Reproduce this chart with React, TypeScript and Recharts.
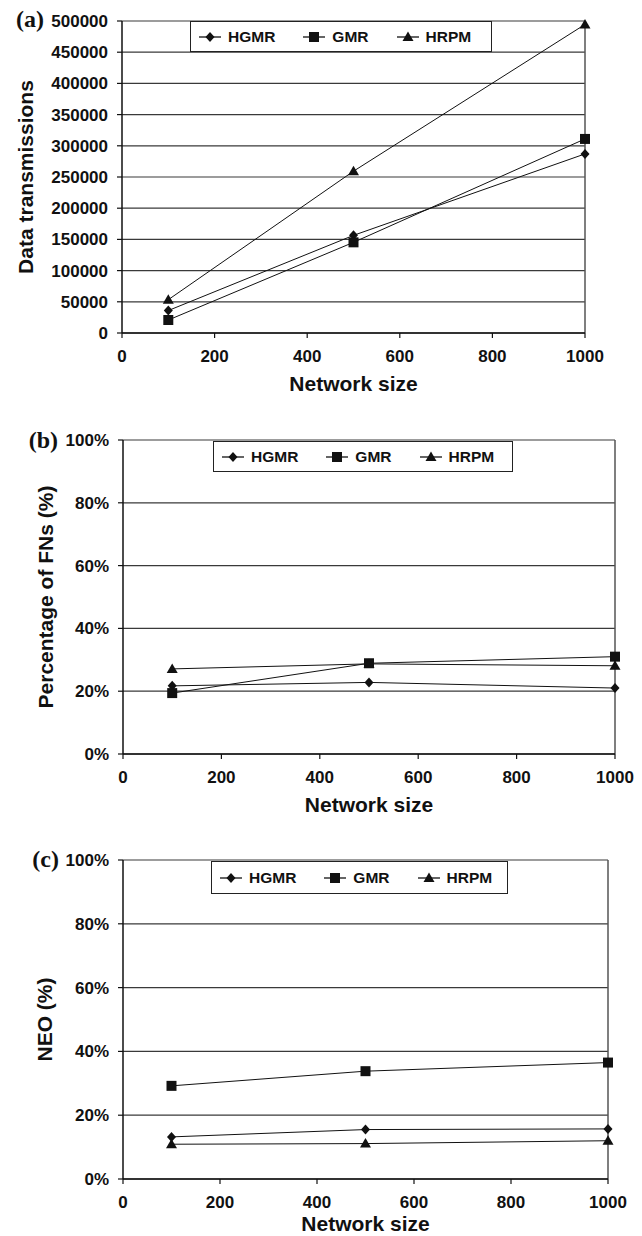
import React from 'react';
import { LineChart, Line, XAxis, YAxis, CartesianGrid, Legend, ReferenceLine } from 'recharts';

const networkSizes = [100, 500, 1000];
const seriesNames = ['HGMR', 'GMR', 'HRPM'];
const markerShapes = ['diamond', 'square', 'triangle'];

const hgmrTransmissions = [36000, 156500, 287000];
const gmrTransmissions = [20800, 145300, 311000];
const hrpmTransmissions = [53400, 259300, 494500];

const hgmrFNs = [21.7, 22.8, 21.0];
const gmrFNs = [19.4, 28.9, 31.0];
const hrpmFNs = [27.1, 28.7, 28.1];

const hgmrNEO = [13.2, 15.5, 15.7];
const gmrNEO = [29.2, 33.8, 36.5];
const hrpmNEO = [10.9, 11.1, 12.0];

const xTicks = [0, 200, 400, 600, 800, 1000];
const transmissionTicks = [0, 50000, 100000, 150000, 200000, 250000, 300000, 350000, 400000, 450000, 500000];
const percentTicks = [0, 20, 40, 60, 80, 100];

const SANS = '"Liberation Sans", Arial, Helvetica, sans-serif';
const SERIF = '"Liberation Serif", "Times New Roman", serif';
const INK = '#111';

function buildRows(a: number[], b: number[], c: number[]) {
  return networkSizes.map((n, i) => ({ size: n, HGMR: a[i], GMR: b[i], HRPM: c[i] }));
}

function markerPath(shape: string, cx: number, cy: number) {
  if (shape === 'diamond') return `M${cx},${cy - 5}L${cx + 4.5},${cy}L${cx},${cy + 5}L${cx - 4.5},${cy}Z`;
  if (shape === 'square') return `M${cx - 5},${cy - 5}h10v10h-10Z`;
  return `M${cx},${cy - 5.5}L${cx + 5.5},${cy + 4}L${cx - 5.5},${cy + 4}Z`;
}

function LegendBox({ width, height }: { width: number; height: number }) {
  return (
    <div
      style={{
        width,
        height,
        boxSizing: 'border-box',
        border: '1.5px solid #222',
        background: '#fff',
        display: 'flex',
        alignItems: 'center',
        paddingLeft: 8,
        gap: 28,
        fontFamily: SANS,
        fontWeight: 'bold',
        fontSize: 15.5,
        color: INK,
      }}
    >
      {seriesNames.map((name, i) => (
        <div key={name} style={{ display: 'flex', alignItems: 'center' }}>
          <svg width={22} height={12} style={{ display: 'block' }}>
            <line x1={0} y1={6} x2={22} y2={6} stroke={INK} strokeWidth={1.3} />
            <path d={markerPath(markerShapes[i], 11, 6)} fill={INK} />
          </svg>
          <span style={{ marginLeft: 7 }}>{name}</span>
        </div>
      ))}
    </div>
  );
}

type PanelProps = {
  top: number;
  height: number;
  margin: { top: number; right: number; left: number; bottom: number };
  xAxisHeight: number;
  xLabelOffset: number;
  rows: any[];
  yDomain: [number, number];
  yTicks: number[];
  yFormat: (v: number) => string;
  yTitle: string;
  yTitleOffset: number;
  legend: { left: number; top: number; width: number; height: number };
  panelLabel: string;
  panelLabelRight: number;
  panelLabelCenter: number;
};

function Panel(p: PanelProps) {
  return (
    <div style={{ position: 'absolute', left: 0, top: p.top, width: 642, height: p.height }}>
      <LineChart width={642} height={p.height} data={p.rows} margin={p.margin}>
        <CartesianGrid vertical={false} stroke="#3a3a3a" strokeWidth={1.2} />
        <XAxis
          dataKey="size"
          type="number"
          domain={[0, 1000]}
          ticks={xTicks}
          interval={0}
          height={p.xAxisHeight}
          tickSize={5}
          tickMargin={12}
          axisLine={{ stroke: INK, strokeWidth: 1.5 }}
          tickLine={{ stroke: INK, strokeWidth: 1.2 }}
          tick={{ fill: INK, fontSize: 17, fontWeight: 'bold', fontFamily: SANS }}
          label={{
            value: 'Network size',
            position: 'insideBottom',
            offset: p.xLabelOffset,
            fill: INK,
            fontSize: 21,
            fontWeight: 'bold',
            fontFamily: SANS,
          }}
        />
        <YAxis
          type="number"
          domain={p.yDomain}
          ticks={p.yTicks}
          interval={0}
          width={122}
          tickSize={5}
          tickMargin={9}
          tickFormatter={p.yFormat}
          axisLine={{ stroke: INK, strokeWidth: 1.5 }}
          tickLine={{ stroke: INK, strokeWidth: 1.2 }}
          tick={{ fill: INK, fontSize: 17, fontWeight: 'bold', fontFamily: SANS }}
          label={{
            value: p.yTitle,
            angle: -90,
            position: 'insideLeft',
            offset: p.yTitleOffset,
            fill: INK,
            fontSize: 21,
            fontWeight: 'bold',
            fontFamily: SANS,
            style: { textAnchor: 'middle' },
          }}
        />
        <ReferenceLine x={1000} stroke="#555" strokeWidth={1.5} />
        {seriesNames.map((name, i) => (
          <Line
            key={name}
            dataKey={name}
            stroke={INK}
            strokeWidth={1}
            isAnimationActive={false}
            dot={(d: any) => (
              <path key={`${name}-${d.index}`} d={markerPath(markerShapes[i], d.cx, d.cy)} fill={INK} stroke="none" />
            )}
            activeDot={false}
          />
        ))}
        <Legend
          layout="horizontal"
          verticalAlign="middle"
          align="center"
          wrapperStyle={{ left: p.legend.left, top: p.legend.top, width: p.legend.width, height: p.legend.height }}
          content={() => <LegendBox width={p.legend.width} height={p.legend.height} />}
        />
      </LineChart>
      <div
        style={{
          position: 'absolute',
          left: 0,
          width: p.panelLabelRight,
          top: p.panelLabelCenter - 14,
          textAlign: 'right',
          fontFamily: SERIF,
          fontWeight: 'bold',
          fontSize: 24,
          lineHeight: '24px',
          color: INK,
        }}
      >
        {p.panelLabel}
      </div>
    </div>
  );
}

const pct = (v: number) => `${v}%`;
const plain = (v: number) => `${v}`;

export default function App() {
  return (
    <div style={{ position: 'absolute', left: 0, top: 0, width: 642, height: 1236, overflow: 'hidden', background: '#fff' }}>
      <Panel
        top={0}
        height={403}
        margin={{ top: 21, right: 57, left: 0, bottom: 0 }}
        xAxisHeight={70}
        xLabelOffset={12}
        rows={buildRows(hgmrTransmissions, gmrTransmissions, hrpmTransmissions)}
        yDomain={[0, 500000]}
        yTicks={transmissionTicks}
        yFormat={plain}
        yTitle="Data transmissions"
        yTitleOffset={26}
        legend={{ left: 190, top: 21, width: 302, height: 31 }}
        panelLabel="(a)"
        panelLabelRight={44}
        panelLabelCenter={21}
      />
      <Panel
        top={400}
        height={424}
        margin={{ top: 40, right: 27, left: 1, bottom: 0 }}
        xAxisHeight={70}
        xLabelOffset={12}
        rows={buildRows(hgmrFNs, gmrFNs, hrpmFNs)}
        yDomain={[0, 100]}
        yTicks={percentTicks}
        yFormat={pct}
        yTitle="Percentage of FNs (%)"
        yTitleOffset={45}
        legend={{ left: 213, top: 41, width: 300, height: 31 }}
        panelLabel="(b)"
        panelLabelRight={58}
        panelLabelCenter={42}
      />
      <Panel
        top={800}
        height={436}
        margin={{ top: 60, right: 34, left: 1, bottom: 0 }}
        xAxisHeight={57}
        xLabelOffset={5}
        rows={buildRows(hgmrNEO, gmrNEO, hrpmNEO)}
        yDomain={[0, 100]}
        yTicks={percentTicks}
        yFormat={pct}
        yTitle="NEO (%)"
        yTitleOffset={44}
        legend={{ left: 211, top: 61, width: 297, height: 33 }}
        panelLabel="(c)"
        panelLabelRight={59}
        panelLabelCenter={61}
      />
    </div>
  );
}
